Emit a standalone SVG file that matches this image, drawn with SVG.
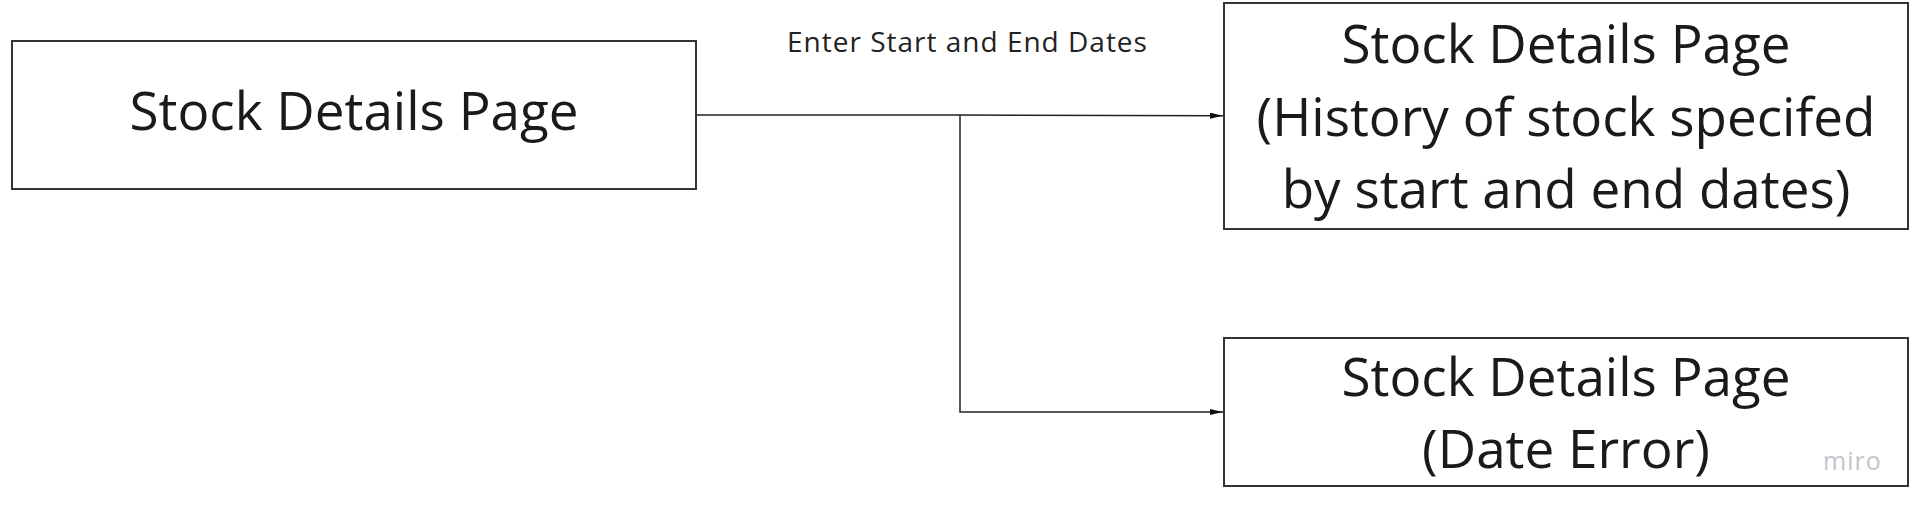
<svg xmlns="http://www.w3.org/2000/svg" width="1929" height="518" viewBox="0 0 1929 518">
<style>
.box{fill:#fff;stroke:#333;stroke-width:2}
.t{font-family:"Open Sans","Liberation Sans",sans-serif;font-size:53px;fill:#1a1a1a;text-anchor:middle}
.lbl{font-family:"Open Sans","Liberation Sans",sans-serif;font-size:28px;fill:#222;letter-spacing:1px}
.c{fill:none;stroke:#222;stroke-width:1.5}
.wm{font-family:"Open Sans","Liberation Sans",sans-serif;font-size:25px;fill:#c4c4cc;letter-spacing:1px}
</style>
<defs>
<marker id="ah" viewBox="0 0 13 6" refX="13" refY="3" markerWidth="13" markerHeight="6" markerUnits="userSpaceOnUse" orient="auto">
<path d="M0,0 L13,3 L0,6 Z" fill="#111"/>
</marker>
</defs>
<rect width="1929" height="518" fill="#fff"/>
<g id="connectors">
<path class="c" d="M696,115 H960 L1223,115.7" marker-end="url(#ah)"/>
<path class="c" d="M960,115 V412 H1223" marker-end="url(#ah)"/>
<text class="lbl" x="787" y="52">Enter Start and End Dates</text>
</g>
<g id="node-start">
<rect class="box" x="12" y="41" width="684" height="148"/>
<text class="t" x="354" y="130">Stock Details Page</text>
</g>
<g id="node-history">
<rect class="box" x="1224" y="3" width="684" height="226"/>
<text class="t" x="1566" y="63">Stock Details Page</text>
<text class="t" x="1566" y="136">(History of stock specifed</text>
<text class="t" x="1566" y="208">by start and end dates)</text>
</g>
<g id="node-error">
<rect class="box" x="1224" y="338" width="684" height="148"/>
<text class="t" x="1566" y="396">Stock Details Page</text>
<text class="t" x="1566" y="468">(Date Error)</text>
<text class="wm" x="1823" y="470">miro</text>
</g>
</svg>
